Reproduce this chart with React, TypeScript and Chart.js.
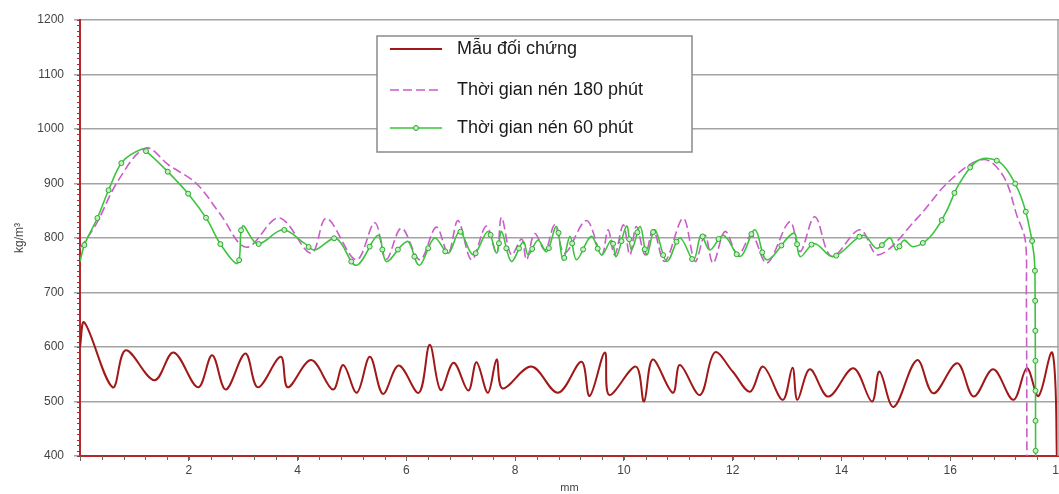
import React, { useEffect, useRef } from 'react';
import { Chart, registerables } from 'chart.js';

Chart.register(...registerables);

// ---------- data ----------
const xTickValues = [0, 2, 4, 6, 8, 10, 12, 14, 16, 18];
const yTickValues = [400, 500, 600, 700, 800, 900, 1000, 1100, 1200];
const xMinorStep = 0.4;
const yMinorStep = 10;

const seriesLabels = ['Mẫu đối chứng', 'Thời gian nén 180 phút', 'Thời gian nén 60 phút'];
const xTitle = 'mm';
const yTitle = 'kg/m³';

// Mẫu đối chứng (control)
const controlMm = [
  0, 0.08, 0.6, 0.84, 1.37, 1.72, 2.17, 2.43, 2.68, 3.04, 3.27, 3.69, 3.82, 4.25, 4.65, 4.84,
  5.09, 5.33, 5.57, 5.86, 6.23, 6.43, 6.63, 6.87, 7.14, 7.29, 7.5, 7.66, 7.77, 8.3, 8.79, 9.22,
  9.37, 9.65, 9.73, 10.22, 10.37, 10.53, 10.9, 11.03, 11.4, 11.67, 12.0, 12.32, 12.56, 12.92,
  13.1, 13.19, 13.42, 13.76, 14.22, 14.56, 14.7, 14.96, 15.39, 15.69, 16.13, 16.43, 16.79,
  17.16, 17.41, 17.62, 17.86, 17.93, 17.96,
];
const controlKg = [
  600, 645, 526, 594, 539, 590, 526, 585, 522, 588, 526, 582, 526, 576, 522, 567,
  516, 582, 514, 566, 516, 604, 521, 571, 520, 572, 516, 577, 524, 564, 516, 573,
  510, 590, 512, 564, 500, 577, 516, 567, 512, 590, 555, 518, 564, 503,
  562, 503, 559, 509, 561, 500, 555, 490, 576, 515, 570, 509, 559,
  503, 561, 510, 590, 540, 400,
];

// Thời gian nén 180 phút
const press180Mm = [
  0, 0.3, 0.7, 1.21, 1.63, 2.14, 2.57, 3.06, 3.66, 4.25, 4.53, 5.08, 5.42, 5.63, 5.91, 6.25,
  6.55, 6.77, 6.95, 7.2, 7.47, 7.66, 7.75, 7.93, 8.12, 8.21, 8.36, 8.55, 8.73, 8.91, 9.31,
  9.59, 9.71, 9.83, 9.99, 10.11, 10.23, 10.39, 10.54, 10.75, 11.09, 11.31, 11.49, 11.64,
  11.86, 12.1, 12.35, 12.63, 13.05, 13.24, 13.51, 13.82, 14.34, 14.68, 15.39, 16.0, 16.61,
  16.98, 17.23, 17.38, 17.4, 17.41,
];
const press180Kg = [
  781, 826, 905, 965, 934, 900, 845, 783, 837, 772, 836, 760, 828, 761, 818, 760,
  820, 772, 832, 760, 822, 772, 838, 769, 798, 760, 808, 778, 824, 772, 832,
  769, 815, 769, 824, 769, 821, 769, 815, 757, 836, 757, 805, 754,
  812, 769, 805, 754, 830, 775, 839, 766, 815, 769, 836, 906, 944,
  913, 840, 796, 700, 400,
];

// Thời gian nén 60 phút
const press60Mm = [
  0, 0.08, 0.33, 0.53, 0.78, 1.13, 1.23, 1.63, 2.0, 2.33, 2.6, 2.9, 2.99, 3.27, 3.73, 4.13,
  4.31, 4.71, 5.08, 5.48, 5.63, 5.92, 6.04, 6.24, 6.52, 6.77, 6.98, 7.23, 7.5, 7.66, 7.75,
  7.93, 8.15, 8.24, 8.42, 8.58, 8.76, 8.88, 9.01, 9.13, 9.4, 9.59, 9.77, 9.86, 10.05, 10.14,
  10.3, 10.42, 10.57, 10.79, 11.03, 11.28, 11.42, 11.58, 11.83, 12.14, 12.41, 12.63, 13.12,
  13.24, 13.5, 13.85, 14.4, 14.65, 14.89, 15.01, 15.15, 15.32, 15.62, 15.91, 16.15, 16.45,
  16.7, 16.97, 17.25, 17.42, 17.54, 17.56, 17.57,
];
const press60Kg = [
  757, 787, 839, 889, 940, 963, 958, 920, 880, 835, 786, 754, 822, 789, 815, 790,
  778, 799, 750, 805, 757, 787, 793, 750, 800, 772, 812, 769, 812, 772, 812,
  757, 793, 769, 796, 775, 821, 760, 803, 760, 803, 769, 796, 766, 822, 778,
  821, 769, 815, 757, 800, 760, 805, 778, 805, 766, 815, 760, 809,
  766, 790, 766, 805, 781, 800, 778, 796, 784, 801, 845, 897, 938,
  946, 934, 888, 836, 769, 708, 400,
];

// ---------- styles ----------
const RED = '#a01818';
const MAGENTA = '#c95ec9';
const GREEN = '#3cc43c';
const AXIS_RED = '#b3282a';
const GRID = '#a3a3a3';
const FONT = "'Liberation Sans', Arial, sans-serif";

const toPoints = (xs: number[], ys: number[]) => xs.map((x, i) => ({ x, y: ys[i] }));

const markerPlugin = {
  id: 'pathMarkers',
  afterDatasetsDraw(chart: any) {
    const meta = chart.getDatasetMeta(0);
    const pts = meta.data as any[];
    if (!pts || pts.length < 2) return;
    const ctx = chart.ctx as CanvasRenderingContext2D;
    const spacing = 30;
    let next = 17;
    let acc = 0;
    let prev = { x: pts[0].x, y: pts[0].y };
    const marks: { x: number; y: number }[] = [];
    for (let i = 0; i < pts.length - 1; i++) {
      const p0 = pts[i];
      const p3 = pts[i + 1];
      const c1x = p0.cp2x ?? p0.x, c1y = p0.cp2y ?? p0.y;
      const c2x = p3.cp1x ?? p3.x, c2y = p3.cp1y ?? p3.y;
      for (let s = 1; s <= 30; s++) {
        const t = s / 30, m = 1 - t;
        const bx = m * m * m * p0.x + 3 * m * m * t * c1x + 3 * m * t * t * c2x + t * t * t * p3.x;
        const by = m * m * m * p0.y + 3 * m * m * t * c1y + 3 * m * t * t * c2y + t * t * t * p3.y;
        const d = Math.hypot(bx - prev.x, by - prev.y);
        while (d > 0 && acc + d >= next) {
          const f = (next - acc) / d;
          marks.push({ x: prev.x + f * (bx - prev.x), y: prev.y + f * (by - prev.y) });
          next += spacing;
        }
        acc += d;
        prev = { x: bx, y: by };
      }
    }
    const area = chart.chartArea;
    ctx.save();
    ctx.lineWidth = 1;
    ctx.strokeStyle = '#2aa82a';
    ctx.fillStyle = '#c4efc4';
    for (const mk of marks) {
      if (mk.y > area.bottom - 4) continue;
      ctx.beginPath();
      ctx.arc(mk.x, mk.y, 2.5, 0, Math.PI * 2);
      ctx.fill();
      ctx.stroke();
    }
    ctx.restore();
  },
};

const framePlugin = {
  id: 'frameAndMinor',
  afterDraw(chart: any) {
    const { ctx, chartArea, scales } = chart;
    const xs = scales.x, ys = scales.y;
    ctx.save();
    ctx.strokeStyle = GRID;
    ctx.lineWidth = 1.5;
    ctx.beginPath();
    ctx.moveTo(chartArea.right - 1, chartArea.top);
    ctx.lineTo(chartArea.right - 1, chartArea.bottom);
    ctx.stroke();
    ctx.strokeStyle = '#666';
    ctx.lineWidth = 1;
    const xmax = xs.max;
    for (let i = 0; i * xMinorStep <= xmax + 1e-6; i++) {
      const px = Math.round(xs.getPixelForValue(i * xMinorStep)) + 0.5;
      ctx.beginPath();
      ctx.moveTo(px, chartArea.bottom);
      ctx.lineTo(px, chartArea.bottom + 4);
      ctx.stroke();
    }
    ctx.strokeStyle = AXIS_RED;
    for (let v = ys.min; v <= ys.max + 1e-6; v += yMinorStep) {
      const py = Math.round(ys.getPixelForValue(v)) + 0.5;
      ctx.beginPath();
      ctx.moveTo(chartArea.left - 3, py);
      ctx.lineTo(chartArea.left, py);
      ctx.stroke();
    }
    ctx.restore();
  },
};

const legendPlugin = {
  id: 'boxLegend',
  afterDatasetsDraw(chart: any) {
    const ctx = chart.ctx as CanvasRenderingContext2D;
    const box = { left: 377, top: 36, width: 315, height: 116 };
    const rows = [49, 90, 128];
    const colors = [RED, MAGENTA, GREEN];
    ctx.save();
    ctx.fillStyle = '#ffffff';
    ctx.fillRect(box.left, box.top, box.width, box.height);
    ctx.strokeStyle = '#8a8a8a';
    ctx.lineWidth = 1.5;
    ctx.strokeRect(box.left, box.top, box.width, box.height);
    for (let i = 0; i < 3; i++) {
      const y = rows[i];
      ctx.strokeStyle = colors[i];
      ctx.lineWidth = i === 0 ? 2 : 1.6;
      ctx.setLineDash(i === 1 ? [9, 4] : []);
      ctx.beginPath();
      ctx.moveTo(390, y);
      ctx.lineTo(442, y);
      ctx.stroke();
      ctx.setLineDash([]);
      if (i === 2) {
        ctx.fillStyle = '#c4efc4';
        ctx.strokeStyle = '#2aa82a';
        ctx.lineWidth = 1;
        ctx.beginPath();
        ctx.arc(416, y, 2.5, 0, Math.PI * 2);
        ctx.fill();
        ctx.stroke();
      }
      ctx.fillStyle = '#1a1a1a';
      ctx.font = `18px ${FONT}`;
      ctx.textBaseline = 'middle';
      ctx.textAlign = 'left';
      ctx.fillText(seriesLabels[i], 457, y);
    }
    ctx.restore();
  },
};

export default function App() {
  const canvasRef = useRef<HTMLCanvasElement | null>(null);

  useEffect(() => {
    if (!canvasRef.current) return;
    const chart = new Chart(canvasRef.current, {
      type: 'line',
      data: {
        datasets: [
          {
            label: seriesLabels[2],
            data: toPoints(press60Mm, press60Kg),
            borderColor: GREEN,
            borderWidth: 1.6,
            pointRadius: 0,
            tension: 0.35,
            fill: false,
          },
          {
            label: seriesLabels[1],
            data: toPoints(press180Mm, press180Kg),
            borderColor: MAGENTA,
            borderWidth: 1.6,
            borderDash: [9, 4],
            pointRadius: 0,
            tension: 0.35,
            fill: false,
          },
          {
            label: seriesLabels[0],
            data: toPoints(controlMm, controlKg),
            borderColor: RED,
            borderWidth: 2,
            pointRadius: 0,
            tension: 0.35,
            fill: false,
          },
        ],
      },
      options: {
        animation: false,
        responsive: true,
        maintainAspectRatio: false,
        layout: { padding: { left: 0, top: 20, right: 21, bottom: 0 } },
        plugins: { legend: { display: false }, tooltip: { enabled: false } },
        scales: {
          x: {
            type: 'linear',
            min: 0,
            max: 18,
            afterBuildTicks: (s: any) => {
              s.ticks = xTickValues.map((v) => ({ value: v }));
            },
            afterFit: (s: any) => {
              s.height = 38;
            },
            grid: { drawOnChartArea: false, tickLength: 5, tickColor: '#666' },
            border: { color: AXIS_RED, width: 2 },
            ticks: {
              callback: (v: any) => (v === 0 ? '' : String(v)),
              font: { family: FONT, size: 12 },
              color: '#444',
              padding: 2,
              maxRotation: 0,
              autoSkip: false,
            },
            title: {
              display: true,
              text: xTitle,
              font: { family: FONT, size: 11, lineHeight: 1 },
              color: '#444',
              padding: { top: 0, bottom: 0.5 },
            },
          },
          y: {
            type: 'linear',
            min: 400,
            max: 1200,
            afterBuildTicks: (s: any) => {
              s.ticks = yTickValues.map((v) => ({ value: v }));
            },
            afterFit: (s: any) => {
              s.width = 80;
            },
            grid: { color: GRID, lineWidth: 1.5, tickLength: 6, tickColor: GRID },
            border: { color: AXIS_RED, width: 2 },
            ticks: {
              callback: (v: any) => String(v),
              font: { family: FONT, size: 12 },
              color: '#444',
              padding: 10,
            },
            title: {
              display: true,
              text: yTitle,
              font: { family: FONT, size: 12 },
              color: '#444',
              padding: { top: 12, bottom: 0 },
            },
          },
        },
      },
      plugins: [framePlugin, markerPlugin, legendPlugin],
    } as any);
    return () => chart.destroy();
  }, []);

  return (
    <div
      style={{
        position: 'absolute',
        left: 0,
        top: 0,
        width: 1059,
        height: 494,
        overflow: 'hidden',
        background: '#fff',
      }}
    >
      <div style={{ position: 'relative', width: 1080, height: 494 }}>
        <canvas ref={canvasRef} />
      </div>
    </div>
  );
}
